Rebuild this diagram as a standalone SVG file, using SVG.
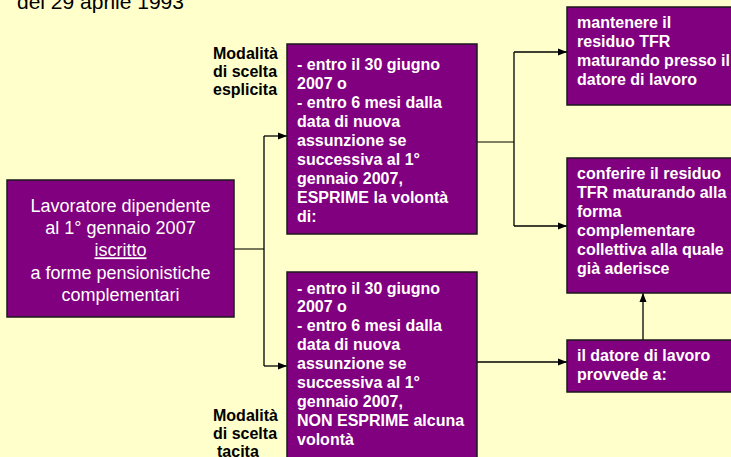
<svg xmlns="http://www.w3.org/2000/svg" width="731" height="457" viewBox="0 0 731 457">
<defs>
<marker id="arr" markerUnits="userSpaceOnUse" markerWidth="10" markerHeight="8" refX="9" refY="4" orient="auto">
<path d="M0,0.5 L9,4 L0,7.5 Z" fill="#000"/>
</marker>
</defs>
<style>
.box{fill:#800080;stroke:#1a1a1a;stroke-width:1.5}
.b{font-family:"Liberation Sans",Arial,sans-serif;font-weight:bold;font-size:16px;fill:#fff}
.r{font-family:"Liberation Sans",Arial,sans-serif;font-size:18px;fill:#fff;text-anchor:middle}
.lab{font-family:"Liberation Sans",Arial,sans-serif;font-weight:bold;font-size:16px;fill:#000}
.ln{fill:none;stroke:#000;stroke-width:1.3}
.stem{fill:none;stroke:#55553f;stroke-width:1.6}
</style>
<rect width="731" height="457" fill="#FFFFCC"/>
<text x="17" y="8.5" font-family="Liberation Sans, Arial, sans-serif" font-size="21" fill="#000">del 29 aprile 1993</text>

<g id="connectors">
<path class="stem" d="M234,249 H264"/>
<path class="ln" d="M264,136 V366"/>
<path class="ln" d="M264,136 H287" marker-end="url(#arr)"/>
<path class="ln" d="M264,366 H287" marker-end="url(#arr)"/>
<path class="stem" d="M477,142 H514"/>
<path class="ln" d="M514,52 V226"/>
<path class="ln" d="M514,52 H567" marker-end="url(#arr)"/>
<path class="ln" d="M514,226 H567" marker-end="url(#arr)"/>
<path class="ln" d="M477,362 H567" marker-end="url(#arr)"/>
<path class="ln" d="M643,340 V293" marker-end="url(#arr)"/>
</g>

<g id="n_left">
<rect class="box" x="7" y="180" width="227" height="137"/>
<text class="r" x="120.5" y="211.7">Lavoratore dipendente</text>
<text class="r" x="120.5" y="234">al 1° gennaio 2007</text>
<text class="r" x="120.5" y="256.3" text-decoration="underline">iscritto</text>
<text class="r" x="120.5" y="278.6">a forme pensionistiche</text>
<text class="r" x="120.5" y="301">complementari</text>
</g>

<g id="label_esplicita">
<text class="lab" x="213" y="58.7">Modalità</text>
<text class="lab" x="213" y="77">di scelta</text>
<text class="lab" x="213" y="95">esplicita</text>
</g>

<g id="label_tacita">
<text class="lab" x="213" y="420.7">Modalità</text>
<text class="lab" x="213" y="438.5">di scelta</text>
<text class="lab" x="217" y="456.5">tacita</text>
</g>

<g id="n_esplicita">
<rect class="box" x="287" y="44" width="190" height="190"/>
<text class="b" x="297" y="69.5">- entro il 30 giugno</text>
<text class="b" x="297" y="88.6">2007 o</text>
<text class="b" x="297" y="107.7">- entro 6 mesi dalla</text>
<text class="b" x="297" y="126.8">data di nuova</text>
<text class="b" x="297" y="145.9">assunzione se</text>
<text class="b" x="297" y="165">successiva al 1°</text>
<text class="b" x="297" y="184.1">gennaio 2007,</text>
<text class="b" x="297" y="203.2">ESPRIME la volontà</text>
<text class="b" x="297" y="222.3">di:</text>
</g>

<g id="n_tacita">
<rect class="box" x="287" y="272" width="190" height="200"/>
<text class="b" x="297" y="293.5">- entro il 30 giugno</text>
<text class="b" x="297" y="312.4">2007 o</text>
<text class="b" x="297" y="331.3">- entro 6 mesi dalla</text>
<text class="b" x="297" y="350.2">data di nuova</text>
<text class="b" x="297" y="369.1">assunzione se</text>
<text class="b" x="297" y="388">successiva al 1°</text>
<text class="b" x="297" y="406.9">gennaio 2007,</text>
<text class="b" x="297" y="425.8">NON ESPRIME alcuna</text>
<text class="b" x="297" y="444.7">volontà</text>
</g>

<g id="n_mantenere">
<rect class="box" x="567" y="7" width="180" height="98"/>
<text class="b" x="577" y="28.3">mantenere il</text>
<text class="b" x="577" y="47.2">residuo TFR</text>
<text class="b" x="577" y="66.1">maturando presso il</text>
<text class="b" x="577" y="85">datore di lavoro</text>
</g>

<g id="n_conferire">
<rect class="box" x="567" y="158" width="180" height="135"/>
<text class="b" x="577" y="179.3">conferire il residuo</text>
<text class="b" x="577" y="198.2">TFR maturando alla</text>
<text class="b" x="577" y="217.1">forma</text>
<text class="b" x="577" y="236">complementare</text>
<text class="b" x="577" y="254.9">collettiva alla quale</text>
<text class="b" x="577" y="273.8">già aderisce</text>
</g>

<g id="n_datore">
<rect class="box" x="567" y="340" width="180" height="52"/>
<text class="b" x="577" y="360.7">il datore di lavoro</text>
<text class="b" x="577" y="379.6">provvede a:</text>
</g>
</svg>
